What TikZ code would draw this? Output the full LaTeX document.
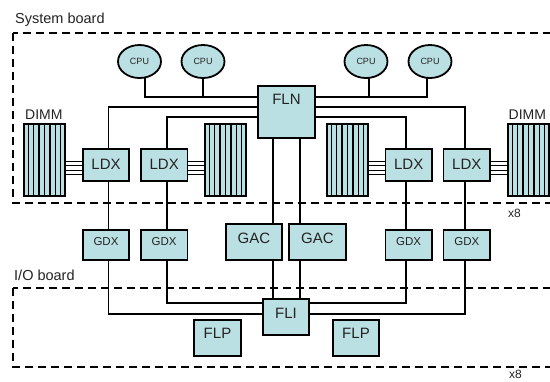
\documentclass[tikz,border=0pt]{standalone}
\usepackage{fontspec}
\setmainfont{Liberation Sans}
\usetikzlibrary{backgrounds,calc,shapes.geometric}
\definecolor{boxfill}{RGB}{187,224,227}
\definecolor{txt}{RGB}{35,35,35}
\begin{document}
\begin{tikzpicture}[x=1pt,y=-1pt,
  box/.style={draw=black, line width=1.8pt, fill=boxfill, inner sep=0pt},
  cpunode/.style={ellipse, draw=black, line width=1.8pt, fill=boxfill, inner sep=0pt,
    minimum width=43pt, minimum height=33pt, text=txt, font=\fontsize{9}{9}\selectfont},
  dimmbox/.style={draw=black, line width=1.8pt, fill=boxfill, inner sep=0pt,
    minimum width=41.5pt, minimum height=72.5pt},
  stripe/.style={line width=1.5pt},
  big/.style={inner sep=0pt, text=txt, font=\fontsize{15}{15}\selectfont},
  small/.style={inner sep=0pt, text=txt, font=\fontsize{11.5}{11.5}\selectfont},
  lbl/.style={inner sep=0pt, text=txt, font=\fontsize{14.5}{14.5}\selectfont},
  dimml/.style={inner sep=0pt, text=txt, font=\fontsize{14}{14}\selectfont},
  xlbl/.style={inner sep=0pt, text=txt, font=\fontsize{12}{12}\selectfont},
  link/.style={line width=1.6pt},
  dlink/.style={line width=1.3pt},
  board/.style={line width=1.8pt, dash pattern=on 8pt off 5pt}]
\useasboundingbox (0,0) rectangle (550,381);
\clip (0,0) rectangle (550,381);

% boards
\draw[board] (13,33) rectangle (580,203);
\draw[board] (13,288) rectangle (580,367);
\node[lbl, anchor=base west] (sysl) at (15,23.5) {System board};
\node[lbl, anchor=base west] (iol) at (14,280) {I/O board};
\node[xlbl, anchor=base west] (x8a) at (508,217.5) {x8};
\node[xlbl, anchor=base west] (x8b) at (509,378.5) {x8};

% CPUs
\node[cpunode] (cpu1) at (139.5,61.5) {CPU};
\node[cpunode] (cpu2) at (203,61.5) {CPU};
\node[cpunode] (cpu3) at (366,61.5) {CPU};
\node[cpunode] (cpu4) at (430,61.5) {CPU};

% FLN
\node[box, minimum width=57.5pt, minimum height=52.5pt] (fln) at (286.5,112) {};
\node[big] (flnt) at (286.5,99.5) {FLN};

% LDX
\foreach \n/\x in {1/106,2/164.2,3/408.7,4/466.8}{
  \node[box, minimum width=46.5pt, minimum height=32.5pt] (ldx\n) at (\x,165) {};
  \node[big] (ldxt\n) at (\x,164) {LDX};
  \node[box, minimum width=46.5pt, minimum height=30.5pt] (gdx\n) at (\x,245) {};
  \node[small] (gdxt\n) at (\x,241.5) {GDX};
}

% DIMMs
\foreach \n/\x in {1/44.5,2/225.5,3/347.5,4/528.5}{
  \node[dimmbox] (dimm\n) at (\x,160) {};
  \foreach \i in {1,...,7}{
    \draw[stripe] ($(dimm\n.north west)!\i/8!(dimm\n.north east)$) --
                  ($(dimm\n.south west)!\i/8!(dimm\n.south east)$);
  }
}
\node[dimml, anchor=base west] (d1l) at (25,119.5) {DIMM};
\node[dimml, anchor=base west] (d4l) at (508.5,119.5) {DIMM};

% GAC
\node[box, minimum width=56.5pt, minimum height=36.5pt] (gac1) at (254,242) {};
\node[big] (gact1) at (254,238) {GAC};
\node[box, minimum width=57.5pt, minimum height=36.5pt] (gac2) at (317.5,242) {};
\node[big] (gact2) at (317.5,238) {GAC};

% FLI
\node[box, minimum width=46.5pt, minimum height=36.5pt] (fli) at (286,317) {};
\node[big] (flit) at (286,313) {FLI};

% FLP
\node[box, minimum width=47.5pt, minimum height=36.5pt] (flp1) at (217.5,338) {};
\node[big] (flpt1) at (217.5,333) {FLP};
\node[box, minimum width=46.5pt, minimum height=36.5pt] (flp2) at (356,338) {};
\node[big] (flpt2) at (356,333) {FLP};

% tap points
\coordinate (st1) at ([xshift=5.5pt]cpu1.center);
\coordinate (st2) at (cpu2.center);
\coordinate (st3) at ([xshift=3pt]cpu3.center);
\coordinate (st4) at ([xshift=-3pt]cpu4.center);
\coordinate (l1) at ([xshift=2.5pt]ldx1.center);
\coordinate (l2) at ([xshift=2.5pt]ldx2.center);
\coordinate (l3) at ([xshift=-2.7pt]ldx3.center);
\coordinate (l4) at ([xshift=-1.8pt]ldx4.center);

\begin{scope}[on background layer]
  % CPU bus
  \draw[link] (fln.west |- 0,97) -| (st1);
  \draw[link] (st2) -- (st2 |- 0,97);
  \draw[link] (fln.east |- 0,97) -| (st4);
  \draw[link] (st3) -- (st3 |- 0,97);
  % FLN to LDX
  \draw[link] (fln.west |- 0,107) -| (l1);
  \draw[link] (fln.west |- 0,117) -| (l2);
  \draw[link] (fln.east |- 0,107) -| (l4);
  \draw[link] (fln.east |- 0,117) -| (l3);
  % LDX to GDX
  \draw[link] (l1) -- (l1 |- gdx1.center);
  \draw[link] (l2) -- (l2 |- gdx2.center);
  \draw[link] (l3) -- (l3 |- gdx3.center);
  \draw[link] (l4) -- (l4 |- gdx4.center);
  % GDX to FLI
  \draw[link] (l1 |- gdx1.center) |- (fli.west |- 0,314);
  \draw[link] (l2 |- gdx2.center) |- (fli.west |- 0,303);
  \draw[link] (l3 |- gdx3.center) |- (fli.east |- 0,303);
  \draw[link] (l4 |- gdx4.center) |- (fli.east |- 0,314);
  % FLN to FLI through GACs
  \draw[link] (fln.center -| 273,0) -- (fli.center -| 273,0);
  \draw[link] (fln.center -| 300,0) -- (fli.center -| 300,0);
  % DIMM links
  \foreach \yy in {161.4,165.8,170.2,174.6}{
    \draw[dlink] (dimm1.east |- 0,\yy) -- (ldx1.west |- 0,\yy);
    \draw[dlink] (dimm2.west |- 0,\yy) -- (ldx2.east |- 0,\yy);
    \draw[dlink] (dimm3.east |- 0,\yy) -- (ldx3.west |- 0,\yy);
    \draw[dlink] (dimm4.west |- 0,\yy) -- (ldx4.east |- 0,\yy);
  }
\end{scope}
\end{tikzpicture}
\end{document}
